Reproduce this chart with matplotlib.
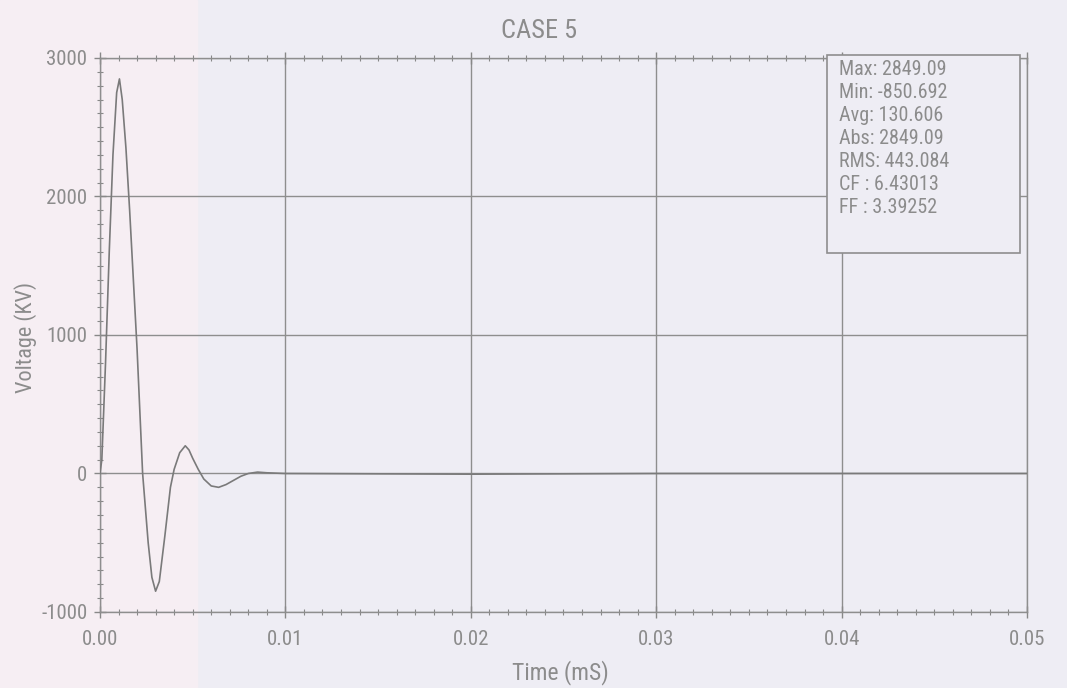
import matplotlib
matplotlib.use("Agg")
import matplotlib.pyplot as plt
from matplotlib.ticker import MultipleLocator
from matplotlib import font_manager

# ---- data ----
time_ms = [0, 0.0001, 0.0003, 0.0005, 0.0007, 0.0009, 0.00105, 0.0012, 0.0014, 0.0016,
           0.0018, 0.002, 0.0023, 0.0026, 0.0028, 0.003, 0.0032, 0.0035, 0.0038, 0.004,
           0.0043, 0.0046, 0.0048, 0.005, 0.0053, 0.0056, 0.006, 0.0064, 0.0068, 0.0072,
           0.0076, 0.008, 0.0085, 0.009, 0.01, 0.02, 0.03, 0.04, 0.05]
voltage_kv = [0, 100, 800, 1600, 2300, 2750, 2849, 2700, 2350, 1900,
              1400, 900, 0, -500, -750, -850, -780, -450, -100, 30,
              150, 200, 170, 110, 30, -40, -90, -100, -80, -50,
              -20, 0, 10, 5, 0, -5, 0, 0, 0]
x_ticks = [0.00, 0.01, 0.02, 0.03, 0.04, 0.05]
x_tick_labels = ["0.00", "0.01", "0.02", "0.03", "0.04", "0.05"]
y_ticks = [-1000, 0, 1000, 2000, 3000]
y_tick_labels = ["-1000", "0", "1000", "2000", "3000"]
stat_lines = ["Max: 2849.09", "Min: -850.692", "Avg: 130.606", "Abs: 2849.09",
              "RMS: 443.084", "CF : 6.43013", "FF : 3.39252"]
title = "CASE 5"
x_label = "Time (mS)"
y_label = "Voltage (KV)"

avail = {f.name for f in font_manager.fontManager.ttflist}
fam = "DejaVu Sans"
for cand in ["Liberation Sans Narrow", "Roboto Condensed", "Open Sans Condensed",
             "DejaVu Sans Condensed", "Noto Sans Condensed", "Roboto"]:
    if cand in avail:
        fam = cand
        break
plt.rcParams['font.family'] = [fam, 'DejaVu Sans']
plt.rcParams['font.stretch'] = 'condensed'

txt = "#8c8c8c"
bg = "#eeedf4"
fig = plt.figure(figsize=(10.67, 6.88), dpi=100, facecolor=bg)
# pinkish left strip from scan
fig.patches.append(plt.Rectangle((0, 0), 0.185, 1, transform=fig.transFigure,
                                 color="#f6eef3", zorder=-1))
ax = fig.add_axes([0.0937, 0.1105, 0.8688, 0.8052])
ax.set_facecolor("none")

ax.plot(time_ms, voltage_kv, color="#7a7a7a", lw=1.2, zorder=3)

ax.set_xlim(0, 0.05)
ax.set_ylim(-1000, 3000)
ax.set_xticks(x_ticks)
ax.set_xticklabels(x_tick_labels)
ax.set_yticks(y_ticks)
ax.set_yticklabels(y_tick_labels)
ax.xaxis.set_minor_locator(MultipleLocator(0.001))
ax.yaxis.set_minor_locator(MultipleLocator(100))
ax.tick_params(axis='both', which='major', labelsize=15, colors="#888888",
               labelcolor=txt, direction='inout', length=8, width=1)
ax.tick_params(axis='both', which='minor', colors="#888888",
               direction='inout', length=5, width=0.8)
ax.tick_params(axis='x', which='both', top=True)
ax.tick_params(axis='x', pad=9)
ax.tick_params(axis='y', pad=5)
ax.grid(True, which='major', color="#8e8e8e", lw=1.0)
for s in ax.spines.values():
    s.set_color("#8e8e8e")
    s.set_linewidth(1.0)

fig.text(0.505, 0.955, title, ha='center', va='center', fontsize=19, color=txt)
fig.text(0.525, 0.022, x_label, ha='center', va='center', fontsize=17, color=txt)
fig.text(0.024, 0.51, y_label, ha='center', va='center', rotation=90, fontsize=16,
         color=txt, fontstretch='normal')

# stats box (opaque, hides grid beneath)
box = plt.Rectangle((0.775, 0.632), 0.181, 0.288, transform=fig.transFigure,
                    facecolor=bg, edgecolor="#8e8e8e", lw=1.2, zorder=4)
fig.patches.append(box)
for i, line in enumerate(stat_lines):
    fig.text(0.786, 0.899 - i * 0.0335, line, ha='left', va='center',
             fontsize=14.5, color=txt, zorder=5)

fig.savefig("out.png", dpi=100, facecolor=bg)
